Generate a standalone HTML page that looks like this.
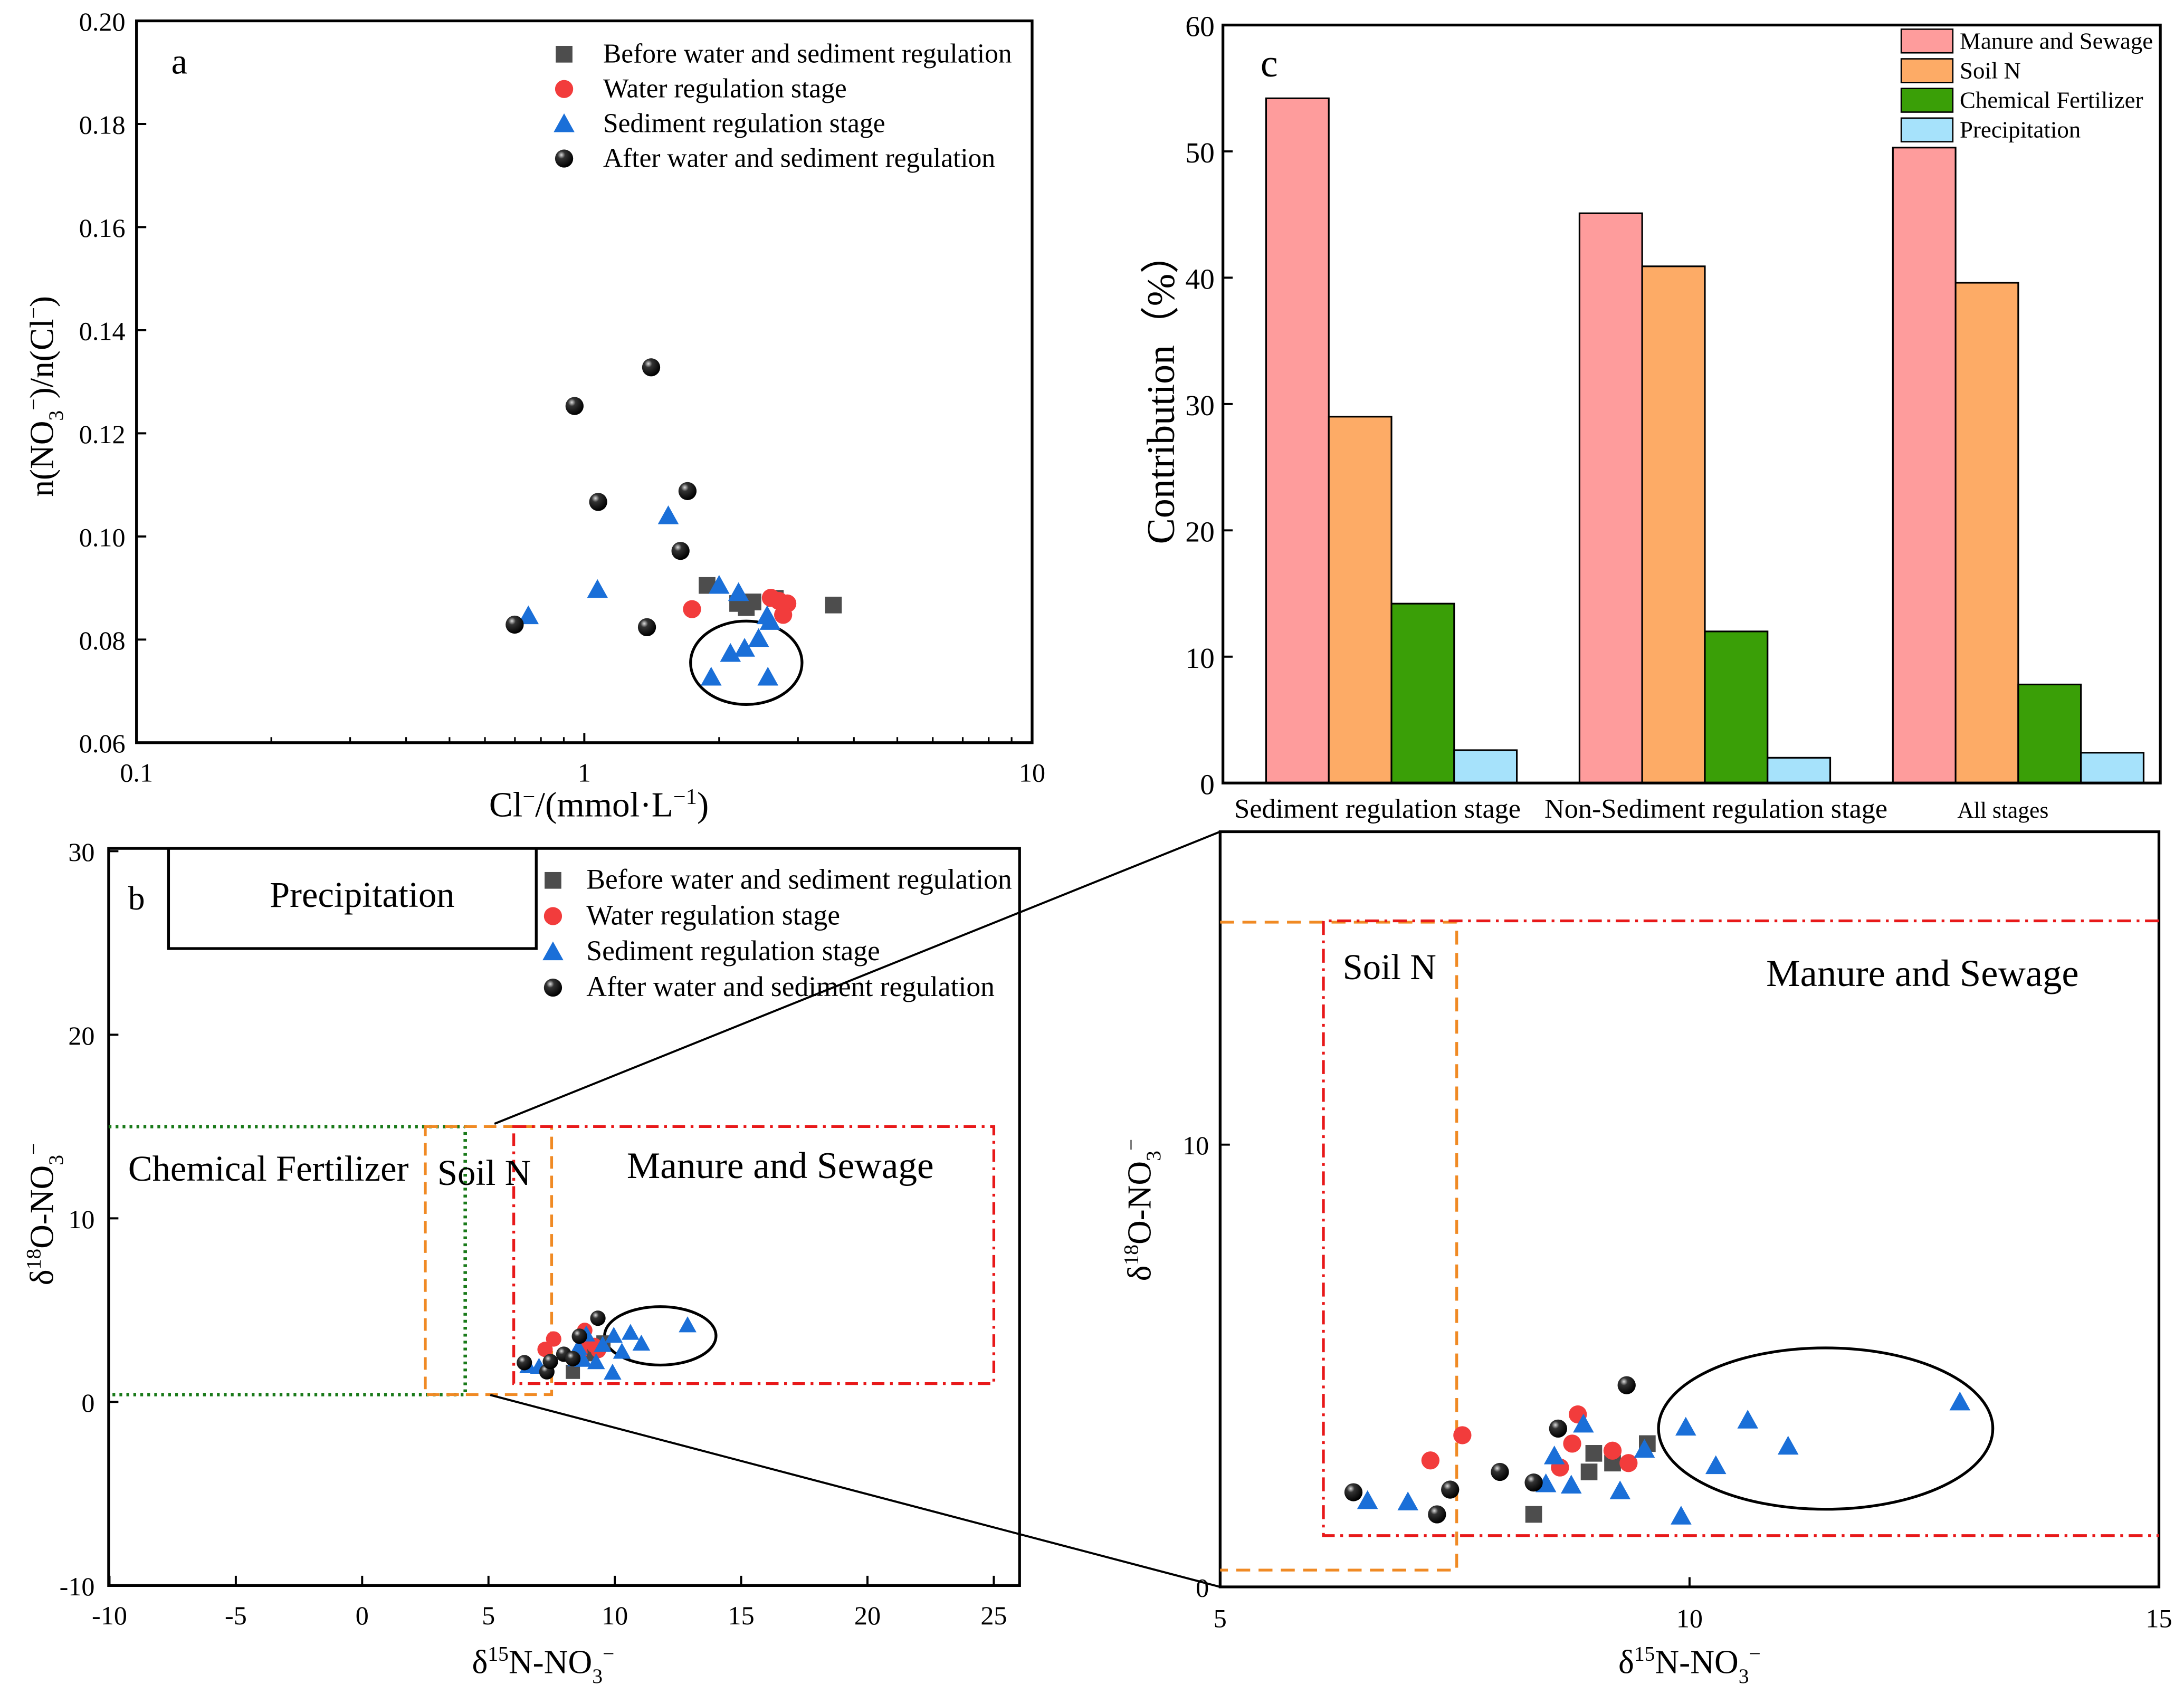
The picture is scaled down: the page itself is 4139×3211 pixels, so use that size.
<!DOCTYPE html>
<html><head><meta charset="utf-8"><style>
html,body{margin:0;padding:0;background:#fff}
svg{display:block}
text{font-family:"Liberation Serif",serif;fill:#000}
</style></head><body>
<svg id="s" width="4139" height="3211" viewBox="0 0 1568 1218" preserveAspectRatio="none" xmlns="http://www.w3.org/2000/svg">
<defs>
<radialGradient id="ball" cx="0.35" cy="0.3" r="0.7"><stop offset="0" stop-color="#ddd"/><stop offset="0.3" stop-color="#333"/><stop offset="1" stop-color="#000"/></radialGradient>
</defs>
<g id="pa"></g>
<g id="pb"></g>
<g id="pc"></g>
<g id="pz"></g>
</svg>
<script>
// ---- Panel a data ----
const aBeforeX=[1.88,2.2,2.3,2.38,2.67,3.6];
const aBeforeY=[0.0905,0.087,0.0862,0.0873,0.088,0.0867];
const aWaterX=[1.74,2.61,2.72,2.84,2.78];
const aWaterY=[0.0859,0.0881,0.0875,0.087,0.0848];
const aSedX=[0.75,1.07,1.54,2.0,2.21,2.56,2.6,2.45,2.28,2.12,1.92,2.57];
const aSedY=[0.0846,0.0897,0.104,0.0905,0.0891,0.0846,0.0835,0.0802,0.0783,0.0773,0.0727,0.0727];
const aAfterX=[0.699,0.951,1.074,1.41,1.38,1.70,1.64];
const aAfterY=[0.0829,0.1253,0.1067,0.1328,0.0824,0.1088,0.0972];
const aYTicks=["0.06","0.08","0.10","0.12","0.14","0.16","0.18","0.20"];
const aXTicks=["0.1","1","10"];
// ---- Isotope data (panels b and zoom) ----
const isoBeforeX=[8.34,8.93,8.98,9.18,9.55];
const isoBeforeY=[1.64,2.6,3.02,2.8,3.24];
const isoWaterX=[7.24,7.58,8.62,8.75,8.81,9.18,9.35];
const isoWaterY=[2.86,3.43,2.7,3.24,3.9,3.08,2.8];
const isoSedX=[6.57,7.0,8.47,8.56,8.74,8.87,9.26,9.52,9.91,9.96,10.28,10.62,11.05,12.88];
const isoSedY=[1.95,1.92,2.33,2.96,2.3,3.68,2.17,3.11,1.6,3.61,2.74,3.77,3.18,4.18];
const isoAfterX=[6.42,7.31,7.45,7.98,8.34,8.6,9.33];
const isoAfterY=[2.14,1.64,2.2,2.6,2.36,3.58,4.56];
const bXTicks=["-10","-5","0","5","10","15","20","25"];
const bYTicks=["-10","0","10","20","30"];
// ---- Panel c data ----
const cCategories=["Sediment regulation stage","Non-Sediment regulation stage","All stages"];
const cManure=[54.2,45.1,50.3];
const cSoil=[29.0,40.9,39.6];
const cChem=[14.2,12.0,7.8];
const cPrecip=[2.6,2.0,2.4];
const cYTicks=["0","10","20","30","40","50","60"];

const NS="http://www.w3.org/2000/svg";
function mk(parent,tag,attrs,txt){const e=document.createElementNS(NS,tag);for(const k in attrs)e.setAttribute(k,attrs[k]);if(txt!==undefined)e.innerHTML=txt;parent.appendChild(e);return e;}
function marker(g,type,x,y,s){
  s=s||1;let e;
  if(type==='sq'){e=mk(g,'rect',{x:x-6*s,y:y-6*s,width:12*s,height:12*s,fill:'#4d4d4d'});}
  else if(type==='ci'){e=mk(g,'circle',{cx:x,cy:y,r:6.5*s,fill:'#f23c3c'});}
  else if(type==='tr'){e=mk(g,'polygon',{points:`${x},${y-7.5*s} ${x-7.5*s},${y+6*s} ${x+7.5*s},${y+6*s}`,fill:'#1a6fd8'});}
  else {e=mk(g,'circle',{cx:x,cy:y,r:6.5*s,fill:'url(#ball)'});}
  return e;
}
// ===== Panel a =====
(function(){
  const g=document.getElementById('pa');
  const L=98,R=741,T=15,B=534;
  const xs=v=>L+(Math.log10(v)+1)/2*(R-L);
  const ys=v=>B-(v-0.06)/0.14*(B-T);
  let e=mk(g,'rect',{x:L,y:T,width:R-L,height:B-T,fill:'none',stroke:'#000','stroke-width':2});
  
  aYTicks.forEach(t=>{const y=ys(+t);mk(g,'line',{x1:L,x2:L+7,y1:y,y2:y,stroke:'#000','stroke-width':1.5});
    const tx=mk(g,'text',{x:L-8,y:y+7,'text-anchor':'end','font-size':19},t);
    });
  aXTicks.forEach(t=>{const x=xs(+t);mk(g,'line',{x1:x,x2:x,y1:B,y2:B-7,stroke:'#000','stroke-width':1.5});
    const tx=mk(g,'text',{x:x,y:B+28,'text-anchor':'middle','font-size':19},t);
    });
  [0.1,1].forEach(d=>{for(let k=2;k<10;k++){const x=xs(d*k);mk(g,'line',{x1:x,x2:x,y1:B,y2:B-4,stroke:'#000','stroke-width':1.2});}});
  e=mk(g,'text',{x:430,y:587,'text-anchor':'middle','font-size':25.5},'Cl<tspan dy="-9" font-size="16">−</tspan><tspan dy="9">/(mmol·L</tspan><tspan dy="-9" font-size="16">−1</tspan><tspan dy="9">)</tspan>');
  
  e=mk(g,'text',{x:0,y:0,'text-anchor':'middle','font-size':24,transform:'translate(38,285) rotate(-90)'},'n(NO<tspan dy="7" font-size="15">3</tspan><tspan dy="-16" font-size="15">−</tspan><tspan dy="9">)/n(Cl</tspan><tspan dy="-9" font-size="15">−</tspan><tspan dy="9">)</tspan>');
  
  e=mk(g,'text',{x:123,y:53,'font-size':26},'a');
  e=mk(g,'ellipse',{cx:xs(2.3),cy:ys(0.0755),rx:40,ry:30,fill:'none',stroke:'#000','stroke-width':2});
  
  const sets=[['sq',aBeforeX,aBeforeY],['ci',aWaterX,aWaterY],['tr',aSedX,aSedY],['ba',aAfterX,aAfterY]];
  sets.forEach(([t,X,Y])=>X.forEach((v,i)=>{const m=marker(g,t,xs(v),ys(Y[i]));
    }));
  const labs=['Before water and sediment regulation','Water regulation stage','Sediment regulation stage','After water and sediment regulation'];
  ['sq','ci','tr','ba'].forEach((t,i)=>{const y=39+i*25;marker(g,t,405,y);
    const tx=mk(g,'text',{x:433,y:y+6,'font-size':19.5},labs[i]);});
})();
// ===== Panel c =====
(function(){
  const g=document.getElementById('pc');
  const L=878,R=1551,T=18,B=563;
  const ys=v=>B-v/60*(B-T);
  const groupStart=[909,1134,1359];const bw=45;
  const series=[[cManure,'#fe9c9c'],[cSoil,'#fdab66'],[cChem,'#3a9f07'],[cPrecip,'#a6e2fb']];
  series.forEach(([vals,col],si)=>vals.forEach((v,i)=>{
    const r=mk(g,'rect',{x:groupStart[i]+si*bw,y:ys(v),width:bw,height:B-ys(v),fill:col,stroke:'#000','stroke-width':1.2});
    }));
  let e=mk(g,'rect',{x:L,y:T,width:R-L,height:B-T,fill:'none',stroke:'#000','stroke-width':2});
  
  cYTicks.forEach(t=>{const y=ys(+t);mk(g,'line',{x1:L,x2:L+7,y1:y,y2:y,stroke:'#000','stroke-width':1.5});
    const tx=mk(g,'text',{x:L-6,y:y+8,'text-anchor':'end','font-size':21},t);});
  const cx=[989,1232,1438];const fs=[19.8,19.8,16.5];
  cCategories.forEach((c,i)=>{const tx=mk(g,'text',{x:cx[i],y:588,'text-anchor':'middle','font-size':fs[i]},c);});
  e=mk(g,'text',{x:0,y:0,'text-anchor':'middle','font-size':28,transform:'translate(843,280) rotate(-90)'},'Contribution（%）');
  
  e=mk(g,'text',{x:905,y:55,'font-size':28},'c');
  const labs=['Manure and Sewage','Soil N','Chemical Fertilizer','Precipitation'];
  series.forEach(([v,col],i)=>{const y=21+i*21.3;mk(g,'rect',{x:1365,y:y,width:37,height:17,fill:col,stroke:'#000','stroke-width':1});
    const tx=mk(g,'text',{x:1407,y:y+14,'font-size':17},labs[i]);});
})();
// ===== Panel b =====
function drawIso(g,xs,ys,s){
  const sets=[['sq',isoBeforeX,isoBeforeY],['ci',isoWaterX,isoWaterY],['tr',isoSedX,isoSedY],['ba',isoAfterX,isoAfterY]];
  sets.forEach(([t,X,Y])=>X.forEach((v,i)=>{const m=marker(g,t,xs(v),ys(Y[i]),s);
    }));
}
(function(){
  const g=document.getElementById('pb');
  const L=78,R=732,T=610,B=1140;
  const xs=v=>260+v*18.14;
  const ys=v=>1008-v*13.2;
  let e=mk(g,'rect',{x:L,y:T,width:R-L,height:B-T,fill:'none',stroke:'#000','stroke-width':2});
  
  bXTicks.forEach(t=>{const x=xs(+t);mk(g,'line',{x1:x,x2:x,y1:B,y2:B-7,stroke:'#000','stroke-width':1.5});
    const tx=mk(g,'text',{x:x,y:B+28,'text-anchor':'middle','font-size':19},t);});
  bYTicks.forEach(t=>{const y=ys(+t);mk(g,'line',{x1:L,x2:L+7,y1:y,y2:y,stroke:'#000','stroke-width':1.5});
    const tx=mk(g,'text',{x:L-10,y:y+7,'text-anchor':'end','font-size':19},t);});
  e=mk(g,'text',{x:390,y:1203,'text-anchor':'middle','font-size':24},'δ<tspan dy="-9" font-size="15">15</tspan><tspan dy="9">N-NO</tspan><tspan dy="7" font-size="15">3</tspan><tspan dy="-16" font-size="15">−</tspan>');
  
  e=mk(g,'text',{x:0,y:0,'text-anchor':'middle','font-size':24,transform:'translate(38,873) rotate(-90)'},'δ<tspan dy="-9" font-size="15">18</tspan><tspan dy="9">O-NO</tspan><tspan dy="7" font-size="15">3</tspan><tspan dy="-16" font-size="15">−</tspan>');
  
  e=mk(g,'text',{x:92,y:654,'font-size':24},'b');
  e=mk(g,'polyline',{points:'121,610 121,682 385,682 385,610',fill:'none',stroke:'#000','stroke-width':2});
  
  mk(g,'text',{x:260,y:652,'text-anchor':'middle','font-size':26},'Precipitation');
  e=mk(g,'polyline',{points:`${L},${ys(15)} ${xs(4.08)},${ys(15)} ${xs(4.08)},${ys(0.4)} ${L},${ys(0.4)}`,fill:'none',stroke:'#1a7a1a','stroke-width':2.5,'stroke-dasharray':'2,3'});
  
  e=mk(g,'rect',{x:xs(2.5),y:ys(15),width:xs(7.5)-xs(2.5),height:ys(0.4)-ys(15),fill:'none',stroke:'#f08a24','stroke-width':2,'stroke-dasharray':'9,5'});
  
  e=mk(g,'rect',{x:xs(6),y:ys(15),width:xs(25)-xs(6),height:ys(1)-ys(15),fill:'none',stroke:'#e8191a','stroke-width':2,'stroke-dasharray':'9,4,2,4'});
  
  mk(g,'text',{x:92,y:849,'font-size':26},'Chemical Fertilizer');
  mk(g,'text',{x:314,y:852,'font-size':26},'Soil N');
  mk(g,'text',{x:450,y:847,'font-size':27},'Manure and Sewage');
  e=mk(g,'ellipse',{cx:xs(11.8),cy:ys(3.6),rx:40,ry:21,fill:'none',stroke:'#000','stroke-width':2});
  
  drawIso(g,xs,ys,0.85);
  const labs=['Before water and sediment regulation','Water regulation stage','Sediment regulation stage','After water and sediment regulation'];
  ['sq','ci','tr','ba'].forEach((t,i)=>{const y=633+i*25.7;marker(g,t,397,y);
    const tx=mk(g,'text',{x:421,y:y+6,'font-size':20.3},labs[i]);});
  e=mk(g,'line',{x1:355,y1:808,x2:876,y2:598,stroke:'#000','stroke-width':1.5});
  e=mk(g,'line',{x1:352,y1:1003,x2:876,y2:1141,stroke:'#000','stroke-width':1.5});
})();
// ===== Zoom panel =====
(function(){
  const g=document.getElementById('pz');
  const L=876,R=1550,T=598,B=1141;
  const xs=v=>L+(v-5)*67.4;
  const ys=v=>B-v*31.8;
  let e=mk(g,'rect',{x:L,y:T,width:R-L,height:B-T,fill:'#fff',stroke:'#000','stroke-width':2});
  
  ["5","10","15"].forEach(t=>{const x=xs(+t);mk(g,'line',{x1:x,x2:x,y1:B,y2:B-7,stroke:'#000','stroke-width':1.5});
    const tx=mk(g,'text',{x:x,y:B+29,'text-anchor':'middle','font-size':19},t);});
  ["0","10"].forEach(t=>{const y=ys(+t);mk(g,'line',{x1:L,x2:L+7,y1:y,y2:y,stroke:'#000','stroke-width':1.5});
    const tx=mk(g,'text',{x:L-8,y:y+7,'text-anchor':'end','font-size':19},t);});
  e=mk(g,'text',{x:1213,y:1203,'text-anchor':'middle','font-size':24},'δ<tspan dy="-9" font-size="15">15</tspan><tspan dy="9">N-NO</tspan><tspan dy="7" font-size="15">3</tspan><tspan dy="-16" font-size="15">−</tspan>');
  
  e=mk(g,'text',{x:0,y:0,'text-anchor':'middle','font-size':24,transform:'translate(826,870) rotate(-90)'},'δ<tspan dy="-9" font-size="15">18</tspan><tspan dy="9">O-NO</tspan><tspan dy="7" font-size="15">3</tspan><tspan dy="-16" font-size="15">−</tspan>');
  
  e=mk(g,'polyline',{points:`${L},${ys(15.03)} ${xs(7.52)},${ys(15.03)} ${xs(7.52)},${ys(0.38)} ${L},${ys(0.38)}`,fill:'none',stroke:'#f08a24','stroke-width':2,'stroke-dasharray':'10,6'});
  
  e=mk(g,'polyline',{points:`${R},${ys(15.06)} ${xs(6.1)},${ys(15.06)} ${xs(6.1)},${ys(1.16)} ${R},${ys(1.16)}`,fill:'none',stroke:'#e8191a','stroke-width':2,'stroke-dasharray':'10,4,2,4'});
  
  mk(g,'text',{x:964,y:704,'font-size':26},'Soil N');
  mk(g,'text',{x:1268,y:709,'font-size':27.5},'Manure and Sewage');
  e=mk(g,'ellipse',{cx:xs(11.45),cy:ys(3.58),rx:120,ry:58,fill:'none',stroke:'#000','stroke-width':2});
  
  drawIso(g,xs,ys,1);
})();
</script>
</body></html>
